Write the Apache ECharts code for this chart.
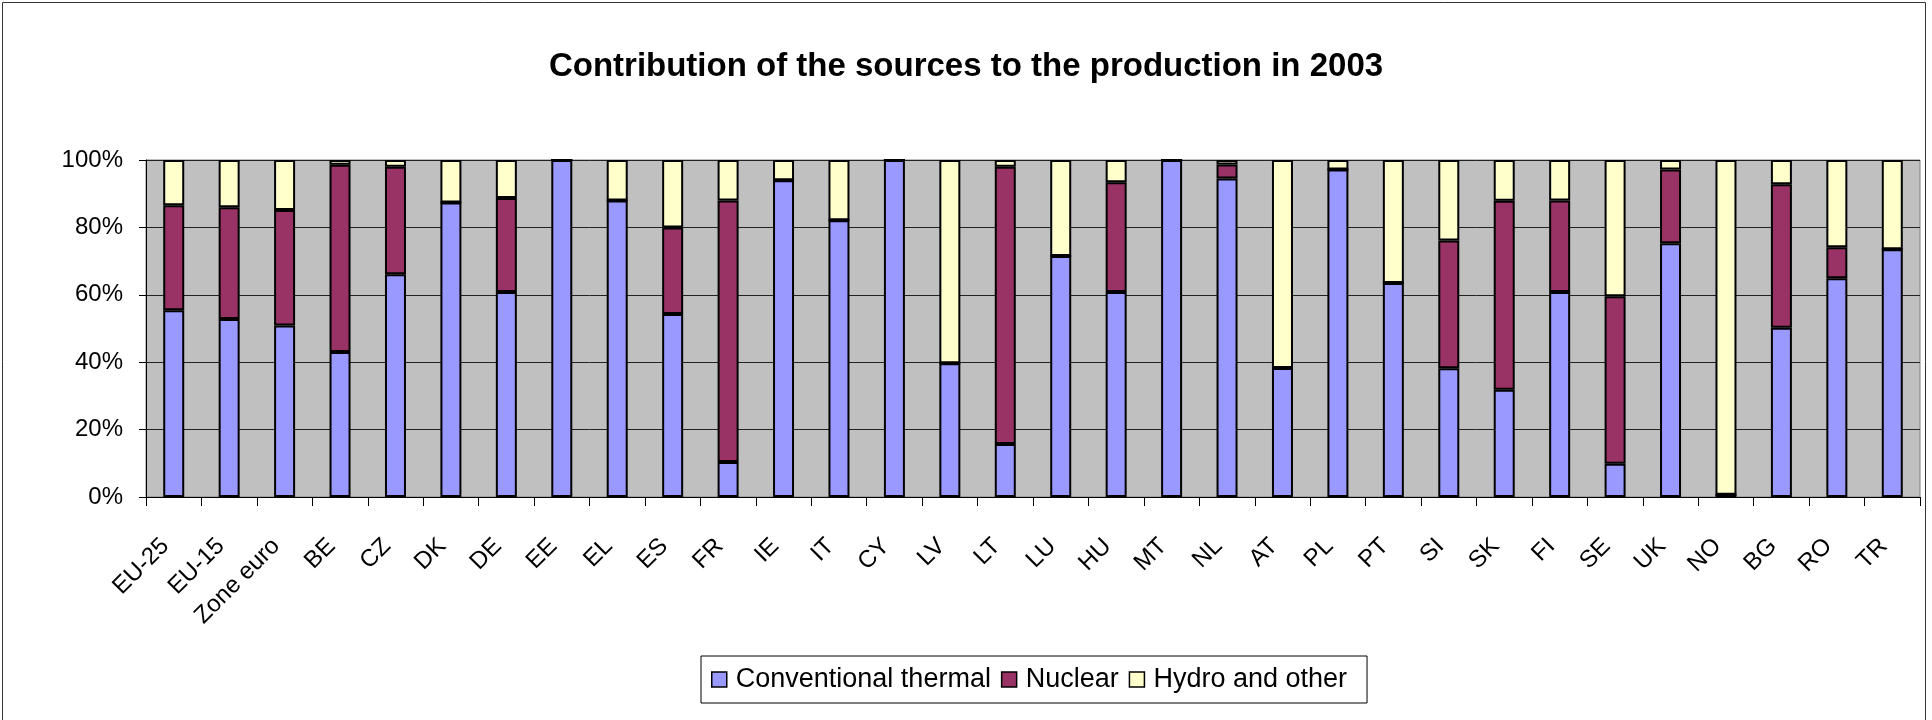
<!DOCTYPE html>
<html>
<head>
<meta charset="utf-8">
<script src="https://cdn.jsdelivr.net/npm/echarts@6/dist/echarts.min.js"></script>
<style>
  html, body { margin: 0; padding: 0; background: #fff; }
  #main { width: 1932px; height: 720px; }
</style>
</head>
<body>
<div id="main"></div>
<script>
// countries / aggregates on the x axis
var categories = ["EU-25", "EU-15", "Zone euro", "BE", "CZ", "DK", "DE", "EE", "EL", "ES", "FR", "IE", "IT", "CY", "LV", "LT", "LU", "HU", "MT", "NL", "AT", "PL", "PT", "SI", "SK", "FI", "SE", "UK", "NO", "BG", "RO", "TR"];

// share of production, %
var thermal = [55.4, 52.8, 50.9, 43.0, 66.1, 87.4, 60.8, 100, 88.0, 54.3, 10.4, 94.0, 82.1, 100, 39.7, 15.7, 71.5, 60.8, 100, 94.5, 38.3, 97.2, 63.5, 38.2, 31.8, 60.8, 9.9, 75.3, 0.7, 50.2, 64.9, 73.5];
var nuclear = [31.2, 33.2, 34.3, 55.6, 31.9, 0, 27.9, 0, 0, 25.7, 77.6, 0, 0, 0, 0, 82.3, 0, 32.6, 0, 4.2, 0, 0, 0, 37.9, 56.1, 27.2, 49.7, 21.9, 0, 42.6, 9.2, 0];
var hydro = [13.4, 14.0, 14.8, 1.4, 2.0, 12.6, 11.3, 0, 12.0, 20.0, 12.0, 6.0, 17.9, 0, 60.3, 2.0, 28.5, 6.6, 0, 1.3, 61.7, 2.8, 36.5, 23.9, 12.1, 12.0, 40.4, 2.8, 99.3, 7.2, 25.9, 26.5];

var yTicks = [0, 20, 40, 60, 80, 100];

var font = "'Liberation Sans', Arial, sans-serif";

function barSeries(name, data, color) {
  return {
    name: name,
    type: "bar",
    stack: "total",
    barWidth: 21,
    data: data,
    itemStyle: { color: color, borderColor: "#000", borderWidth: 2 }
  };
}

var myChart = echarts.init(document.getElementById("main"));
var option = {
  animation: false,
  backgroundColor: "#fff",
  textStyle: { fontFamily: font },
  title: {
    text: "Contribution of the sources to the production in 2003",
    left: "center",
    top: 45,
    textStyle: { fontFamily: font, fontSize: 33, fontWeight: "bold", color: "#000" }
  },
  legend: {
    left: 701,
    top: 656,
    padding: [10, 20, 10, 10],
    borderColor: "#000",
    borderWidth: 1,
    itemGap: 10,
    itemWidth: 15,
    itemHeight: 15,
    icon: "rect",
    itemStyle: { borderColor: "#000", borderWidth: 1.5 },
    textStyle: { fontFamily: font, fontSize: 27, color: "#000", padding: [0, 0, 0, 4] },
    data: ["Conventional thermal", "Nuclear", "Hydro and other"]
  },
  grid: {
    left: 146,
    right: 12,
    top: 160,
    bottom: 223,
    show: true,
    backgroundColor: "#C0C0C0",
    borderColor: "#808080",
    borderWidth: 1
  },
  xAxis: {
    type: "category",
    data: categories,
    axisLine: { lineStyle: { color: "#000", width: 1 } },
    axisTick: { show: true, length: 9, lineStyle: { color: "#000" } },
    axisLabel: {
      interval: 0,
      rotate: 45,
      margin: 37,
      padding: [0, 12, 0, 0],
      fontSize: 24,
      color: "#000",
      fontFamily: font
    }
  },
  yAxis: {
    type: "value",
    min: yTicks[0],
    max: yTicks[yTicks.length - 1],
    interval: 20,
    axisLine: { show: true, lineStyle: { color: "#000", width: 1 } },
    axisTick: { show: true, length: 7, lineStyle: { color: "#000" } },
    splitLine: { lineStyle: { color: "#222", width: 1 } },
    axisLabel: {
      formatter: "{value}%",
      margin: 23,
      fontSize: 24,
      color: "#000",
      fontFamily: font
    }
  },
  graphic: [{
    type: "rect",
    shape: { x: 2.5, y: 2.5, width: 1923, height: 740 },
    style: { fill: null, stroke: "#333", lineWidth: 1 },
    silent: true
  }],
  series: [
    barSeries("Conventional thermal", thermal, "#9999FF"),
    barSeries("Nuclear", nuclear, "#993366"),
    barSeries("Hydro and other", hydro, "#FFFFCC")
  ]
};
myChart.setOption(option);
</script>
</body>
</html>
